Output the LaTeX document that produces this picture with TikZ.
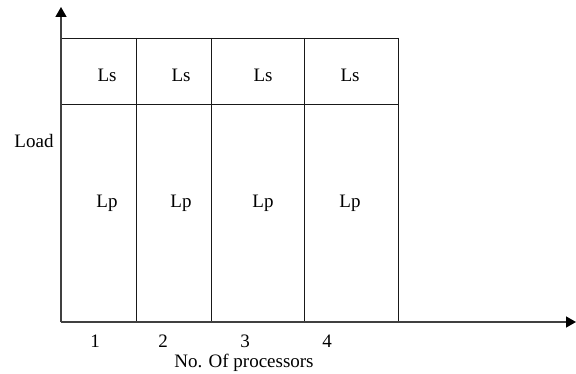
\documentclass[tikz,border=0pt]{standalone}
\usepackage{fontspec}
\setmainfont{Liberation Serif}
\usepackage{tikz}
\usetikzlibrary{positioning,calc,arrows.meta}
\tikzset{
    axis/.style={
        -{Triangle[length=10pt,width=11pt,color=black]},
        draw=black!75,
        line width=1.4pt
    },
    cell/.style={
        draw=black!90,
        line width=0.9pt
    },
    lbl/.style={
        font=\fontsize{19}{22}\selectfont,
        anchor=base,
        inner sep=0pt
    }
}

\begin{document}
\begin{tikzpicture}[x=1pt, y=-1pt]
    \useasboundingbox (0,0) rectangle (576,374);
    \coordinate (O) at (61,322);
    \coordinate (ytip) at (61,7);
    \coordinate (xtip) at (576,322);

    % Columns
    \draw[cell] (61,38) -- (398,38);
    \draw[cell] (61,104) -- (398,104);
    \foreach \x/\n in {136/a, 211/b, 304/c, 398/d} {
        \coordinate (top\n) at (\x,38);
        \coordinate (bot\n) at (\x,322);
        \draw[cell] (top\n) -- (bot\n);
    }

    % Axes
    \draw[axis] (O) -- (ytip);
    \draw[axis] (O) -- (xtip);

    \foreach \x/\n in {107/1, 181/2, 263/3, 350/4} {
        \node[lbl] (ls\n) at (\x,82) {Ls};
        \node[lbl] (lp\n) at (\x,208) {Lp};
    }
    \foreach \x/\n in {95/1, 163/2, 245/3, 327/4} {
        \node[lbl] (n\n) at (\x,347) {\n};
    }
    \node[lbl] (load) at (34,148) {Load};
    \node[lbl] (xlabel) at (244,367) {No. Of processors};
\end{tikzpicture}
\end{document}
